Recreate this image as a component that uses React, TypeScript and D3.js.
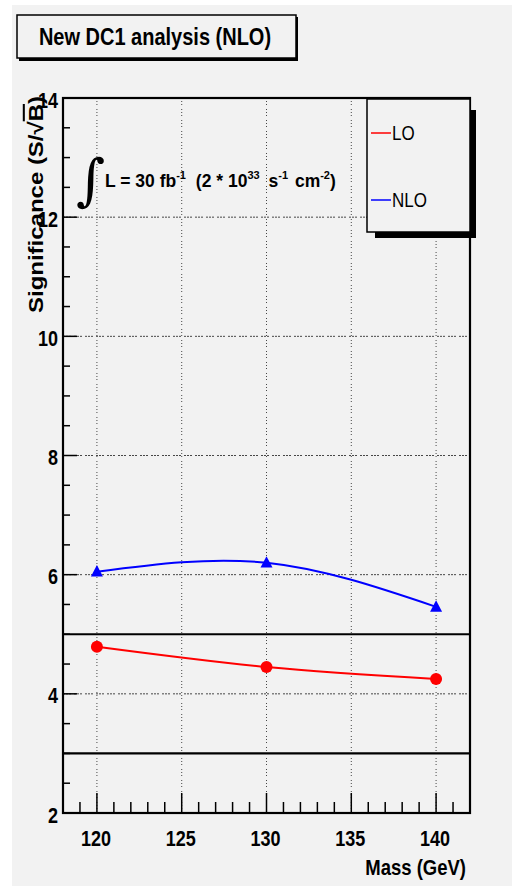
import React from "react";
import { scaleLinear, line, curveNatural, range } from "d3";

const masses = [120, 130, 140];
const loValues = [4.79, 4.45, 4.25];
const nloValues = [6.05, 6.2, 5.46];
const limitLines = [5, 3];
const xTicks = [120, 125, 130, 135, 140];
const yTicks = [2, 4, 6, 8, 10, 12, 14];
const legendItems = [
  { label: "LO", color: "#ff0000" },
  { label: "NLO", color: "#0000ff" },
];

const W = 512;
const H = 886;
const FRAME = { left: 63, top: 98, right: 470, bottom: 813 };
const FONT = "'Liberation Sans', Arial, Helvetica, sans-serif";
// the picture is a bit taller than wide, text looks stretched vertically
const SY = 1.2;

const T = ({ x, y, size, anchor = "start", bold = true, sy = SY, children }: any) => (
  <text
    transform={`translate(${x},${y}) scale(1,${sy})`}
    textAnchor={anchor}
    fontSize={size}
    fontWeight={bold ? "bold" : "normal"}
  >
    {children}
  </text>
);

export default function App() {
  const x = scaleLinear().domain([118, 142]).range([FRAME.left, FRAME.right]);
  const y = scaleLinear().domain([2, 14]).range([FRAME.bottom, FRAME.top]);

  const curve = line<number>()
    .x((d, i) => x(masses[i]))
    .y((d) => y(d))
    .curve(curveNatural);

  const xMinor = range(118, 142.01, 1).filter((v) => !xTicks.includes(v));
  const yMinor = range(2, 14.01, 0.5).filter((v) => !yTicks.includes(v));

  const tri = (cx: number, cy: number, s: number) =>
    `M${cx},${cy - s * 1.1} L${cx + s},${cy + s * 0.8} L${cx - s},${cy + s * 0.8} Z`;

  return (
    <svg
      width={W}
      height={H}
      style={{ position: "absolute", left: 0, top: 0, fontFamily: FONT }}
    >
      <rect x={0} y={0} width={W} height={H} fill="#ffffff" />
      <rect x={12} y={5} width={W - 12} height={H - 5} fill="#f2f2f2" />

      {/* title box */}
      <rect x={19} y={17} width={279} height={44} fill="#000" />
      <rect x={17} y={15} width={279} height={43} fill="#f2f2f2" stroke="#000" strokeWidth={1.5} />
      <T x={155} y={45} size={20} anchor="middle" sy={1.18}>
        New DC1 analysis (NLO)
      </T>

      {/* grid */}
      {xTicks.map((t) => (
        <line key={"gx" + t} x1={x(t)} x2={x(t)} y1={FRAME.top} y2={FRAME.bottom}
          stroke="#000" strokeWidth={1} strokeDasharray="1,2,1,2,1,4" opacity={0.7} />
      ))}
      {yTicks.map((t) => (
        <line key={"gy" + t} x1={FRAME.left} x2={FRAME.right} y1={y(t)} y2={y(t)}
          stroke="#000" strokeWidth={1} strokeDasharray="2,1,2,1,2,3" opacity={0.7} />
      ))}

      {/* limit lines */}
      {limitLines.map((v) => (
        <line key={"lim" + v} x1={FRAME.left} x2={FRAME.right} y1={y(v)} y2={y(v)}
          stroke="#000" strokeWidth={2.2} />
      ))}

      {/* ticks */}
      {xTicks.map((t) => (
        <line key={"xt" + t} x1={x(t)} x2={x(t)} y1={FRAME.bottom} y2={FRAME.bottom - 20}
          stroke="#000" strokeWidth={1.5} />
      ))}
      {xMinor.map((t) => (
        <line key={"xm" + t} x1={x(t)} x2={x(t)} y1={FRAME.bottom} y2={FRAME.bottom - 11}
          stroke="#000" strokeWidth={1.5} />
      ))}
      {yTicks.map((t) => (
        <line key={"yt" + t} x1={FRAME.left} x2={FRAME.left + 14} y1={y(t)} y2={y(t)}
          stroke="#000" strokeWidth={1.5} />
      ))}
      {yMinor.map((t) => (
        <line key={"ym" + t} x1={FRAME.left} x2={FRAME.left + 7} y1={y(t)} y2={y(t)}
          stroke="#000" strokeWidth={1.5} />
      ))}

      {/* frame */}
      <rect x={FRAME.left} y={FRAME.top} width={FRAME.right - FRAME.left}
        height={FRAME.bottom - FRAME.top} fill="none" stroke="#000" strokeWidth={2.2} />

      {/* series */}
      <path d={curve(loValues) ?? ""} fill="none" stroke="#ff0000" strokeWidth={2} />
      <path d={curve(nloValues) ?? ""} fill="none" stroke="#0000ff" strokeWidth={2} />
      {loValues.map((v, i) => (
        <circle key={"lo" + i} cx={x(masses[i])} cy={y(v)} r={6} fill="#ff0000" />
      ))}
      {nloValues.map((v, i) => (
        <path key={"nlo" + i} d={tri(x(masses[i]), y(v), 6)} fill="#0000ff" />
      ))}

      {/* tick labels */}
      {yTicks.map((t) => (
        <T key={"yl" + t} x={58} y={y(t) + 9.5} size={18} anchor="end">
          {t}
        </T>
      ))}
      {xTicks.map((t) => (
        <T key={"xl" + t} x={x(t) - 1} y={846} size={18} anchor="middle">
          {t}
        </T>
      ))}
      <T x={466} y={875} size={18.5} anchor="end">
        Mass (GeV)
      </T>
      <text transform="translate(43,96) rotate(-90) scale(1.17,1)" textAnchor="end"
        fontSize={20.5} fontWeight="bold">
        Significance (S/√<tspan textDecoration="overline">B</tspan>)
      </text>

      {/* annotation */}
      <text x={76} y={199} fontSize={56} fontFamily="'DejaVu Serif', serif">∫</text>
      <text x={105} y={187} fontSize={17.5} fontWeight="bold">
        L = 30 fb<tspan dy={-8} fontSize={11}>-1</tspan>
        <tspan dy={8} dx={5}> (2 * 10</tspan>
        <tspan dy={-8} fontSize={11}>33</tspan>
        <tspan dy={8} dx={4}> s</tspan>
        <tspan dy={-8} fontSize={11}>-1</tspan>
        <tspan dy={8} dx={2}> cm</tspan>
        <tspan dy={-8} fontSize={11}>-2</tspan>
        <tspan dy={8}>)</tspan>
      </text>

      {/* legend */}
      <rect x={375} y={110} width={101} height={128} fill="#000" />
      <rect x={367} y={99} width={103} height={133} fill="#f2f2f2" stroke="#000" strokeWidth={1.5} />
      {legendItems.map((d, i) => (
        <g key={d.label}>
          <line x1={371} x2={391} y1={133 + i * 67} y2={133 + i * 67} stroke={d.color} strokeWidth={1.5} />
          <T x={392} y={140 + i * 67} size={17} bold={false}>{d.label}</T>
        </g>
      ))}
    </svg>
  );
}
